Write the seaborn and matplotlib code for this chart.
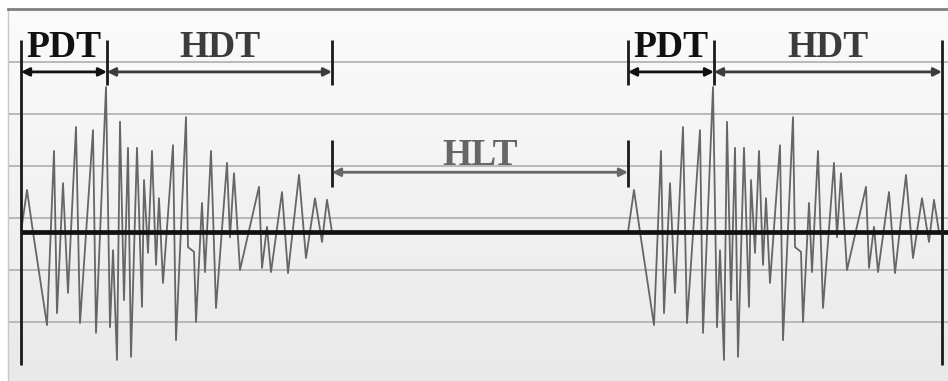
import numpy as np
import pandas as pd
import matplotlib
matplotlib.use("Agg")
import matplotlib.pyplot as plt
import seaborn as sns

# phase durations (s)
phase_names = ["PDT", "HDT", "HLT"]
phase_dur = [0.86, 2.25, 2.96]

# one burst of the signal (s, amplitude)
burst_t = [0.00, 0.06, 0.12, 0.26, 0.33, 0.36, 0.42, 0.47, 0.55, 0.59,
           0.72, 0.75, 0.85, 0.89, 0.92, 0.96, 0.99, 1.03, 1.07, 1.10,
           1.16, 1.21, 1.23, 1.27, 1.31, 1.35, 1.38, 1.42, 1.52, 1.55,
           1.65, 1.67, 1.73, 1.75, 1.81, 1.84, 1.90, 1.95, 2.06, 2.09,
           2.13, 2.19, 2.38, 2.41, 2.46, 2.50, 2.61, 2.67, 2.78, 2.85,
           2.94, 3.01, 3.06, 3.11]
burst_amp = [0.00, 0.81, 0.00, -1.79, 1.56, -1.56, 0.94, -1.17, 2.02, -1.75,
             1.96, -1.94, 2.79, -1.83, -0.35, -2.46, 2.12, -1.31, 1.62, -2.40,
             1.62, -1.44, 1.00, -0.40, 1.56, -0.63, 0.65, -0.98, 1.67, -2.08,
             2.21, -0.29, -0.38, -1.73, 0.56, -0.77, 1.56, -1.46, 1.33, -0.10,
             1.13, -0.73, 0.87, -0.69, 0.10, -0.77, 0.77, -0.79, 1.10, -0.50,
             0.65, -0.19, 0.62, 0.00]

period = sum(phase_dur)
frames = []
for k in range(2):
    frames.append(pd.DataFrame({"t": np.array(burst_t) + k * period,
                                "amp": burst_amp, "burst": k}))
df = pd.concat(frames, ignore_index=True)

sns.set_style("white")

fig = plt.figure(figsize=(9.48, 3.81), dpi=100)
ax = fig.add_axes([8 / 948, 0, 1 - 8 / 948, 1 - 9 / 381])
xmin, xmax = -0.13, 9.27
ymin, ymax = -2.865, 4.29
ax.set_xlim(xmin, xmax)
ax.set_ylim(ymin, ymax)

# background gradient
grad = np.linspace(0, 1, 256).reshape(-1, 1)
ax.imshow(grad, cmap=matplotlib.colors.LinearSegmentedColormap.from_list(
    "bg", ["#fbfbfb", "#e9e9e9"]), aspect="auto",
    extent=[0, 1, 0, 1], transform=ax.transAxes, zorder=0)

for y in np.arange(-1.73, 3.5, 1.0):
    ax.axhline(y, color="#b4b4b4", lw=1.3, zorder=1)

sns.lineplot(data=df, x="t", y="amp", units="burst", estimator=None,
             sort=False, color="#666666", lw=1.3, ax=ax, zorder=2)

ax.hlines(0, 0, xmax, color="#111111", lw=3.4, zorder=3)

ax.set_xlabel("")
ax.set_ylabel("")
ax.set_xticks([])
ax.set_yticks([])
for side in ["right", "bottom"]:
    ax.spines[side].set_visible(False)
ax.spines["top"].set_color("#808080")
ax.spines["top"].set_linewidth(2.0)
ax.spines["left"].set_color("#c8c8c8")
ax.spines["left"].set_linewidth(1.0)

# phase boundaries
t_pdt0 = 0.0
t_hdt0 = phase_dur[0]
t_hlt0 = phase_dur[0] + phase_dur[1]
t_pdt1 = period
t_hdt1 = period + phase_dur[0]
t_end1 = period + phase_dur[0] + phase_dur[1]

ax.vlines([t_pdt0, t_end1 + 0.03], -2.56, 3.69, color="#1a1a1a", lw=2.0, zorder=4)
ax.vlines([t_hdt0, t_hlt0, t_pdt1, t_hdt1], 2.83, 3.69, color="#1a1a1a",
          lw=2.0, zorder=4)
ax.vlines([t_hlt0, t_pdt1], 0.87, 1.77, color="#1a1a1a", lw=2.0, zorder=4)

text_font = dict(family="Liberation Serif", weight="bold", fontsize=27)


def span(a, b, y, label, color, ty):
    ax.annotate("", xy=(a, y), xytext=(b, y),
                arrowprops=dict(arrowstyle="<|-|>", color=color, lw=2.0,
                                mutation_scale=12, shrinkA=0, shrinkB=0),
                zorder=5)
    ax.text((a + b) / 2, ty, label, ha="center", va="baseline",
            color=color, zorder=6, **text_font)


span(t_pdt0, t_hdt0, 3.08, phase_names[0], "#111111", 3.37)
span(t_hdt0, t_hlt0, 3.08, phase_names[1], "#3c3c3c", 3.37)
span(t_hlt0, t_pdt1, 1.15, phase_names[2], "#666666", 1.29)
span(t_pdt1, t_hdt1, 3.08, phase_names[0], "#111111", 3.37)
span(t_hdt1, t_end1 + 0.03, 3.08, phase_names[1], "#3c3c3c", 3.37)

fig.savefig("out.png", dpi=100, facecolor="white")
